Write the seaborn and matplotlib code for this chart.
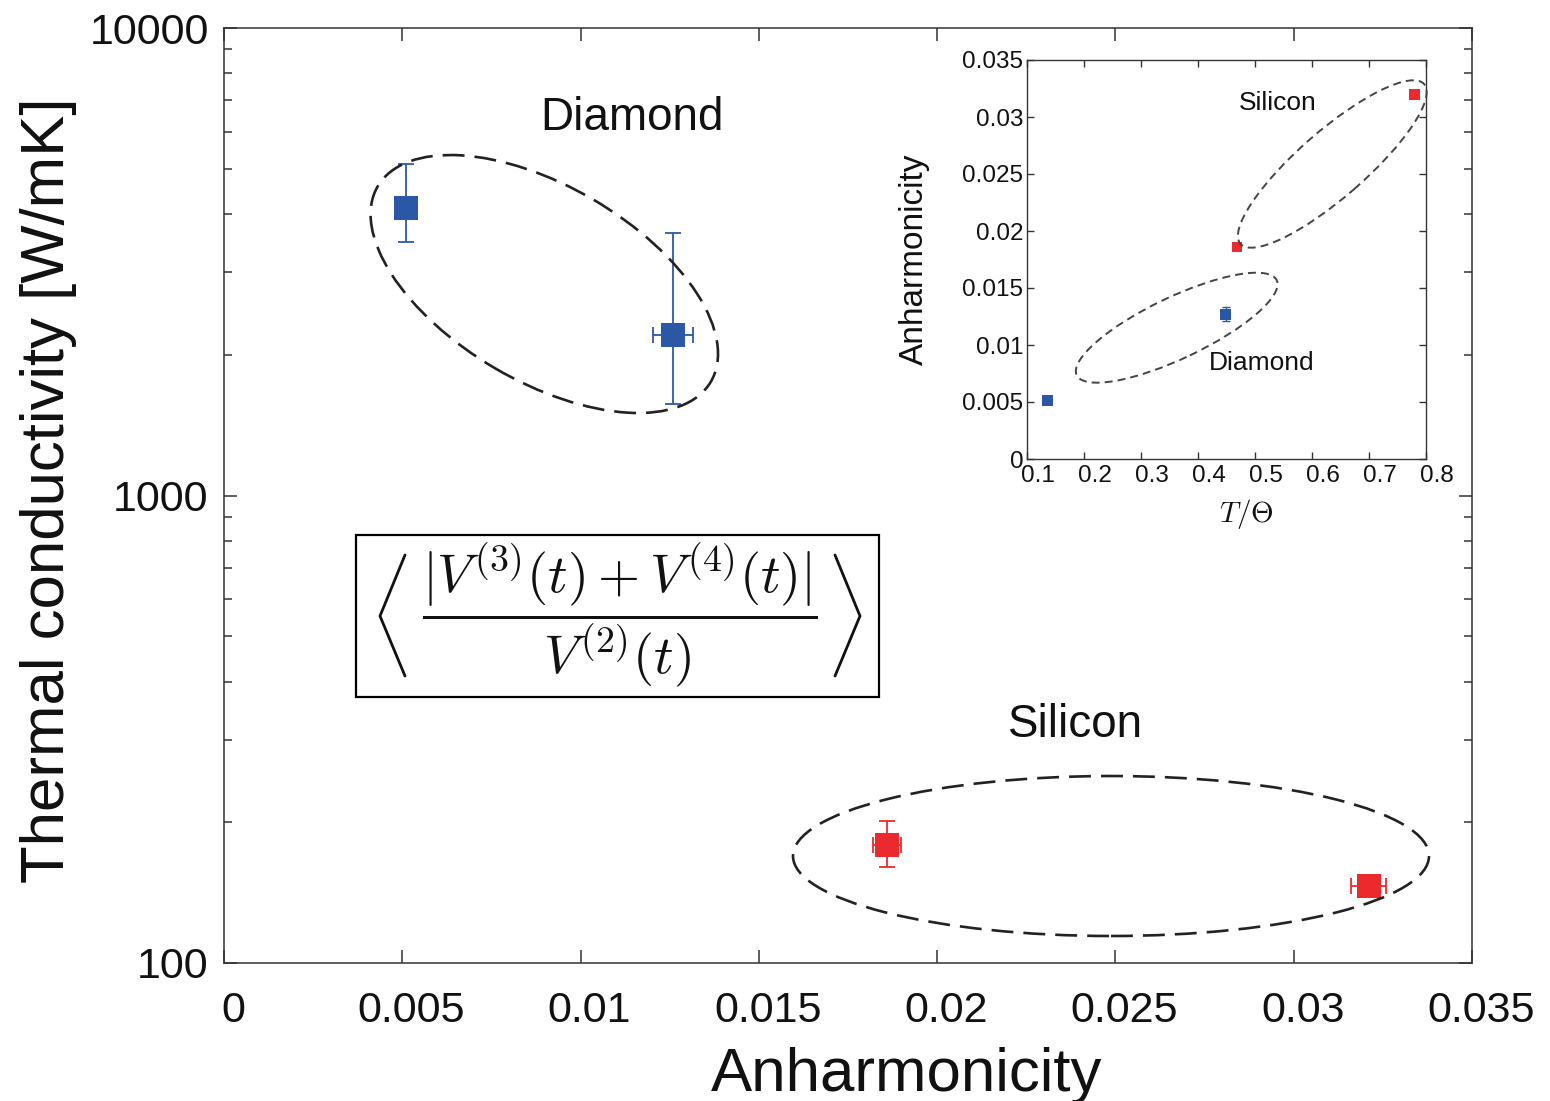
import numpy as np
import pandas as pd
import seaborn as sns
import matplotlib
matplotlib.use("Agg")
import matplotlib.pyplot as plt
from matplotlib.patches import Ellipse, Rectangle
from matplotlib.lines import Line2D
from matplotlib.transforms import Affine2D, ScaledTranslation

# ---------------- data ----------------
materials = ["Diamond", "Diamond", "Silicon", "Silicon"]
anharmonicity = [0.0051, 0.0126, 0.0186, 0.0321]
anharm_err = [0.0, 0.00056, 0.0004, 0.0005]
conductivity = [4130, 2200, 178.5, 146.3]
cond_low = [3490, 1570, 160.4, 146.3]
cond_high = [5120, 3650, 201.6, 146.3]

inset_T_over_theta = [0.135, 0.448, 0.468, 0.780]
inset_anharmonicity = [0.0051, 0.0127, 0.0186, 0.0320]
inset_err = [0.0, 0.0006, 0.0, 0.0]

main_xticks = [0, 0.005, 0.01, 0.015, 0.02, 0.025, 0.03, 0.035]
main_xticklabels = ["0", "0.005", "0.01", "0.015", "0.02", "0.025", "0.03", "0.035"]
main_yticks = [100, 1000, 10000]
main_yticklabels = ["100", "1000", "10000"]
inset_xticks = [0.1, 0.2, 0.3, 0.4, 0.5, 0.6, 0.7, 0.8]
inset_xticklabels = ["0.1", "0.2", "0.3", "0.4", "0.5", "0.6", "0.7", "0.8"]
inset_yticks = [0, 0.005, 0.01, 0.015, 0.02, 0.025, 0.03, 0.035]
inset_yticklabels = ["0", "0.005", "0.01", "0.015", "0.02", "0.025", "0.03", "0.035"]

palette = {"Diamond": "#2b58a6", "Silicon": "#ec2a2d"}

df = pd.DataFrame({"material": materials, "anh": anharmonicity,
                   "kappa": conductivity})
dfi = pd.DataFrame({"material": materials, "T": inset_T_over_theta,
                    "anh": inset_anharmonicity})

# ---------------- style ----------------
sns.set_theme(style="ticks")
plt.rcParams["font.family"] = ["Liberation Sans", "DejaVu Sans"]
plt.rcParams["mathtext.fontset"] = "cm"
plt.rcParams["axes.edgecolor"] = "#333333"
plt.rcParams["axes.linewidth"] = 1.1
plt.rcParams["text.color"] = "#111111"
plt.rcParams["axes.labelcolor"] = "#111111"
plt.rcParams["xtick.labelcolor"] = "#111111"
plt.rcParams["ytick.labelcolor"] = "#111111"

W, H = 1550, 1101
fig = plt.figure(figsize=(W / 100, H / 100), dpi=100)
pix = Affine2D().scale(1 / 100) + fig.dpi_scale_trans  # figure pixels (y up)

# main axes bounds in pixels (y from top)
L, R, T, B = 224, 1472, 28, 963
ax = fig.add_axes([L / W, (H - B) / H, (R - L) / W, (B - T) / H])

# error bars
for m in ["Diamond", "Silicon"]:
    idx = [i for i, mm in enumerate(materials) if mm == m]
    x = [anharmonicity[i] for i in idx]
    y = [conductivity[i] for i in idx]
    ylo = [conductivity[i] - cond_low[i] for i in idx]
    yhi = [cond_high[i] - conductivity[i] for i in idx]
    xe = [anharm_err[i] for i in idx]
    ax.errorbar(x, y, yerr=[ylo, yhi], xerr=xe, fmt="none",
                ecolor=palette[m], elinewidth=1.3, capsize=5.5,
                capthick=1.3, zorder=2)

sns.scatterplot(data=df, x="anh", y="kappa", hue="material", palette=palette,
                marker="s", s=300, linewidth=0, legend=False, ax=ax, zorder=3)

ax.set_yscale("log")
ax.set_xlim(0, 0.035)
ax.set_ylim(100, 10000)
ax.set_xticks(main_xticks)
ax.set_xticklabels(main_xticklabels)
ax.set_yticks(main_yticks)
ax.set_yticklabels(main_yticklabels)
ax.tick_params(axis="both", which="major", direction="in", length=9.5,
               width=1.1, color="#333333", labelsize=31, top=True, right=True)
ax.tick_params(axis="both", which="minor", direction="in", length=5.8,
               width=1.1, color="#333333", top=True, right=True)
ax.tick_params(axis="x", which="major", pad=20)
ax.tick_params(axis="y", which="major", pad=11)
ax.set_xlabel("Anharmonicity", fontsize=44.5, va="top")
ax.xaxis.set_label_coords(0.547, -0.09)
ax.set_ylabel("Thermal conductivity [W/mK]", fontsize=44.5)
ax.yaxis.set_label_coords(-0.118, 0.506)
for sp in ax.spines.values():
    sp.set_visible(True)

off = ScaledTranslation(9 / 100, 0, fig.dpi_scale_trans)
for lab in ax.get_xticklabels():
    lab.set_transform(lab.get_transform() + off)

ax.text(0.327, 0.904, "Diamond", transform=ax.transAxes, fontsize=33,
        ha="center", va="center")
ax.text(0.682, 0.255, "Silicon", transform=ax.transAxes, fontsize=33,
        ha="center", va="center")

# dashed ellipses (pixel coordinates, y up)
def px_ellipse(cx, cy_top, a, b, ang, lw, dashes, color):
    e = Ellipse((cx, H - cy_top), 2 * a, 2 * b, angle=ang, transform=pix,
                fill=False, lw=lw, linestyle=(0, dashes), edgecolor=color,
                zorder=5)
    fig.add_artist(e)

px_ellipse(544.3, 284, 193.1, 97.6, -30.4, 1.9, (8.3, 3.8), "#222222")
px_ellipse(1111, 856, 318, 80, 0, 1.9, (8.3, 3.8), "#222222")

# formula box
bx0, by0, bx1, by1 = 356, 535, 879, 697
fig.add_artist(Rectangle((bx0, H - by1), bx1 - bx0, by1 - by0, transform=pix,
                         fill=False, lw=1.6, edgecolor="black", zorder=5))
# angle brackets around the fraction
fig.add_artist(Line2D([405, 380, 405], [H - 555, H - 616, H - 676],
                      transform=pix, color="#111111", lw=2.0,
                      solid_joinstyle="miter"))
fig.add_artist(Line2D([835, 860, 835], [H - 555, H - 616, H - 676],
                      transform=pix, color="#111111", lw=2.0,
                      solid_joinstyle="miter"))
fig.text(620 / W, (H - 615) / H,
         r"$\dfrac{|V^{(3)}(t)+V^{(4)}(t)|}{V^{(2)}(t)}$",
         fontsize=39, ha="center", va="center", color="#111111")

# ---------------- inset ----------------
iL, iR, iT, iB = 1027.3, 1426, 60, 459
axi = fig.add_axes([iL / W, (H - iB) / H, (iR - iL) / W, (iB - iT) / H])
axi.errorbar(inset_T_over_theta, inset_anharmonicity, yerr=inset_err,
             fmt="none", ecolor=palette["Diamond"], elinewidth=1.0,
             capsize=3, capthick=1.0, zorder=2)
sns.scatterplot(data=dfi, x="T", y="anh", hue="material", palette=palette,
                marker="s", s=60, linewidth=0, legend=False, ax=axi, zorder=3)
axi.set_xlim(0.1, 0.8)
axi.set_ylim(0, 0.035)
axi.set_xticks(inset_xticks)
axi.set_xticklabels(inset_xticklabels)
axi.set_yticks(inset_yticks)
axi.set_yticklabels(inset_yticklabels)
axi.tick_params(axis="both", which="major", direction="in", length=5,
                width=1.0, color="#333333", labelsize=17.5, top=True,
                right=True)
axi.tick_params(axis="x", pad=4)
axi.tick_params(axis="y", pad=3)
for sp in axi.spines.values():
    sp.set_visible(True)
    sp.set_linewidth(1.0)
offi = ScaledTranslation(11 / 100, 0, fig.dpi_scale_trans)
for lab in axi.get_xticklabels():
    lab.set_transform(lab.get_transform() + offi)
axi.set_xlabel(r"$T/\Theta$", fontsize=21)
axi.xaxis.set_label_coords(0.55, -0.095)
axi.set_ylabel("Anharmonicity", fontsize=24)
axi.yaxis.set_label_coords(-0.245, 0.5)

axi.text(0.628, 0.893, "Silicon", transform=axi.transAxes, fontsize=19,
         ha="center", va="center")
axi.text(0.589, 0.241, "Diamond", transform=axi.transAxes, fontsize=19,
         ha="center", va="center")

px_ellipse(1332.3, 164, 121.7, 33.3, 41, 1.4, (4.1, 2.6), "#444444")
px_ellipse(1176.7, 327.7, 110.7, 30.7, 25.4, 1.4, (4.1, 2.6), "#444444")

fig.savefig("out.png", dpi=100)
